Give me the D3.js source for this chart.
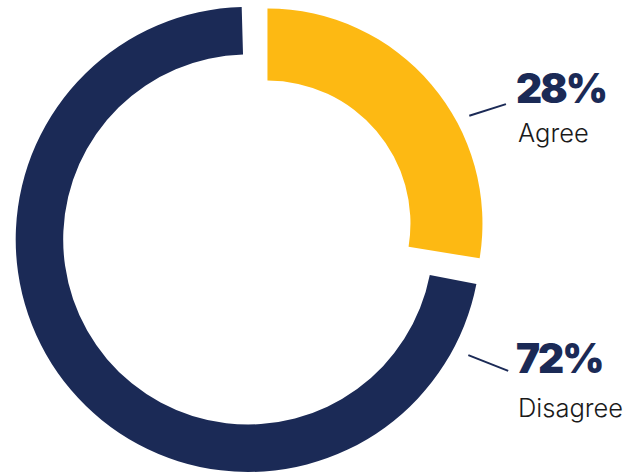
<!DOCTYPE html>
<html>
<head>
<meta charset="utf-8">
<script src="https://cdn.jsdelivr.net/npm/d3@7"></script>
<style>
  html, body { margin: 0; padding: 0; background: #ffffff; }
  svg { display: block; }
</style>
</head>
<body>
<svg id="chart" width="627" height="473"></svg>
<script>
// Survey result: share of respondents
const categories = ["Agree", "Disagree"];
const values = [28, 72];
const sliceColors = ["#fdb913", "#1b2a56"];

// Ring geometry per slice (the highlighted slice is thicker and pulled out)
const ringInner = [143, 185];
const ringOuter = [215, 232.5];
const explode = [25, 0];
const padStart = [0, 0.004];
const padEnd = [0.026, 0.028];

// Label layout (leader lines in polar terms around each slice's own centre)
const leaderStartAngleDeg = [61.9, 117.7];
const leaderEndAngleDeg = [63.4, 116.8];
const leaderRadius = [[228.8, 266.7], [248.6, 291.3]];
const pctBaseline = [102.7, 372.7];
const catBaseline = [141.7, 416.7];
const labelX = 516;

const W = 627, H = 473;
const cx = 248.2, cy = 239.5;
const navy = "#1b2a56";

const svg = d3.select("#chart");
const pie = d3.pie().sort(null).value(d => d);
const slices = pie(values);

const g = svg.append("g").attr("transform", `translate(${cx},${cy})`);

slices.forEach((s, i) => {
  const mid = (s.startAngle + s.endAngle) / 2;
  const ox = explode[i] * Math.sin(mid);
  const oy = -explode[i] * Math.cos(mid);
  const arc = d3.arc()
    .innerRadius(ringInner[i])
    .outerRadius(ringOuter[i]);
  g.append("path")
    .attr("transform", `translate(${ox},${oy})`)
    .attr("d", arc({
      startAngle: s.startAngle + padStart[i],
      endAngle: s.endAngle - padEnd[i]
    }))
    .attr("fill", sliceColors[i]);
});

// Leader lines and labels
slices.forEach((s, i) => {
  const mid = (s.startAngle + s.endAngle) / 2;
  const ox = cx + explode[i] * Math.sin(mid);
  const oy = cy - explode[i] * Math.cos(mid);
  const a0 = leaderStartAngleDeg[i] * Math.PI / 180;
  const a1 = leaderEndAngleDeg[i] * Math.PI / 180;
  const x1 = ox + leaderRadius[i][0] * Math.sin(a0);
  const y1 = oy - leaderRadius[i][0] * Math.cos(a0);
  const x2 = ox + leaderRadius[i][1] * Math.sin(a1);
  const y2 = oy - leaderRadius[i][1] * Math.cos(a1);
  svg.append("line")
    .attr("x1", x1).attr("y1", y1)
    .attr("x2", x2).attr("y2", y2)
    .attr("stroke", navy)
    .attr("stroke-width", 2);

  svg.append("text")
    .attr("x", labelX)
    .attr("y", pctBaseline[i])
    .attr("font-family", "Inter, 'Noto Sans', sans-serif")
    .attr("font-weight", 900)
    .attr("font-size", 40.5)
    .attr("letter-spacing", -2)
    .attr("fill", navy)
    .text(`${values[i]}%`);

  svg.append("text")
    .attr("x", labelX + 2)
    .attr("y", catBaseline[i])
    .attr("font-family", "Inter, 'Noto Sans', sans-serif")
    .attr("font-weight", 300)
    .attr("font-size", 25.5)
    .attr("fill", "#1a1a1a")
    .text(categories[i]);
});
</script>
</body>
</html>
